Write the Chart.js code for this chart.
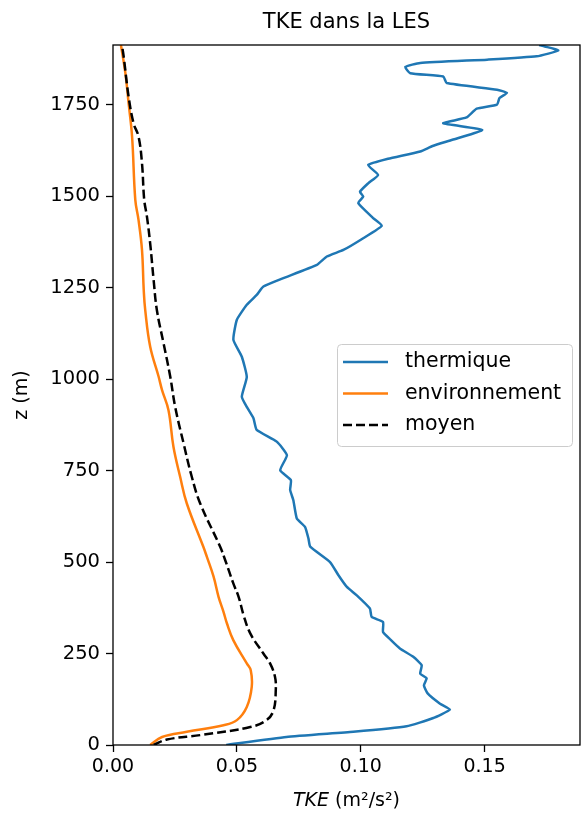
<!DOCTYPE html>
<html>
<head>
<meta charset="utf-8">
<script src="https://cdn.jsdelivr.net/npm/chart.js@4.4.1/dist/chart.umd.min.js"></script>
<style>
  html, body { margin: 0; padding: 0; background: #fff; }
  canvas { display: block; }
</style>
</head>
<body>
<canvas id="chart" width="581" height="814"></canvas>
<script>
// profiles: height z (m) and TKE (m²/s²)
const zThermique = [0, 22, 36, 51, 73, 97, 113, 141, 163, 182, 195, 218, 241, 264, 288, 309, 336, 350, 373, 409, 432, 464, 500, 542, 564, 596, 619, 669, 697, 724, 751, 792, 829, 861, 893, 924, 952, 1006, 1061, 1107, 1162, 1203, 1230, 1253, 1274, 1312, 1335, 1353, 1385, 1419, 1440, 1481, 1499, 1512, 1535, 1558, 1585, 1602, 1622, 1637, 1654, 1681, 1699, 1715, 1739, 1750, 1768, 1782, 1791, 1809, 1827, 1836, 1853, 1864, 1873, 1882, 1898, 1909, 1913];
const tkeThermique = [0.0457, 0.070, 0.097, 0.1185, 0.129, 0.136, 0.132, 0.127, 0.1255, 0.1266, 0.124, 0.1246, 0.1212, 0.1158, 0.112, 0.109, 0.109, 0.1044, 0.1037, 0.0984, 0.0944, 0.091, 0.0876, 0.0796, 0.0789, 0.0775, 0.0742, 0.0728, 0.0715, 0.0718, 0.0675, 0.0702, 0.0661, 0.058, 0.0567, 0.054, 0.052, 0.054, 0.052, 0.0486, 0.050, 0.054, 0.058, 0.0607, 0.068, 0.0823, 0.0863, 0.093, 0.101, 0.1085, 0.105, 0.099, 0.101, 0.0997, 0.103, 0.107, 0.103, 0.111, 0.124, 0.129, 0.137, 0.149, 0.1333, 0.1427, 0.1468, 0.155, 0.156, 0.159, 0.155, 0.1347, 0.1333, 0.120, 0.118, 0.124, 0.151, 0.171, 0.1797, 0.1743, 0.172];

const zEnvironnement = [0, 22, 36, 54, 68, 104, 159, 204, 223, 286, 332, 364, 405, 460, 514, 541, 660, 733, 815, 915, 970, 1007, 1089, 1189, 1244, 1353, 1435, 1490, 1663, 1754, 1836, 1913];
const tkeEnvironnement = [0.015, 0.0198, 0.0298, 0.0446, 0.050, 0.054, 0.056, 0.0556, 0.054, 0.0486, 0.046, 0.0446, 0.0426, 0.0406, 0.0379, 0.0365, 0.0298, 0.0271, 0.0244, 0.0224, 0.0198, 0.0184, 0.015, 0.013, 0.0124, 0.0117, 0.0103, 0.009, 0.0077, 0.0063, 0.005, 0.0032];

const zMoyen = [0, 15, 27, 49, 68, 95, 150, 186, 223, 250, 305, 355, 405, 441, 505, 541, 660, 733, 824, 924, 1007, 1098, 1189, 1271, 1371, 1444, 1490, 1590, 1663, 1699, 1772, 1882, 1913];
const tkeMoyen = [0.0164, 0.0218, 0.0352, 0.0554, 0.062, 0.0648, 0.0657, 0.0654, 0.0634, 0.0607, 0.0554, 0.0527, 0.0507, 0.0486, 0.0453, 0.0433, 0.0352, 0.0318, 0.0285, 0.0251, 0.0231, 0.0204, 0.0177, 0.0164, 0.015, 0.0137, 0.0126, 0.0117, 0.0103, 0.0083, 0.0063, 0.0043, 0.0036];

const xTicks = [0, 0.05, 0.1, 0.15];
const yTicks = [0, 250, 500, 750, 1000, 1250, 1500, 1750];
const seriesLabels = ["thermique", "environnement", "moyen"];

const colors = {
  thermique: "#1f77b4",
  environnement: "#ff7f0e",
  moyen: "#000000",
};
const font = "DejaVu Sans, sans-serif";
const lineWidth = 2.5;
const dash = [9, 4];

const toPoints = (zs, vals) => zs.map((z, i) => ({ x: vals[i], y: z }));

// title over the axes, spines, italic x label and the legend box
const extras = {
  id: "extras",
  afterDraw(chart) {
    const { ctx, chartArea: a } = chart;
    const mid = (a.left + a.right) / 2;
    ctx.save();

    ctx.fillStyle = "#000";
    ctx.textBaseline = "middle";
    ctx.textAlign = "center";
    ctx.font = `21px ${font}`;
    ctx.fillText("TKE dans la LES", mid, 23);

    ctx.strokeStyle = "#000";
    ctx.lineWidth = 1.3;
    ctx.strokeRect(a.left, a.top, a.right - a.left, a.bottom - a.top);

    // x label: "TKE" in italic then the unit
    const y = 801;
    ctx.font = `italic 19px ${font}`;
    const w1 = ctx.measureText("TKE").width;
    ctx.font = `19px ${font}`;
    const unit = " (m²/s²)";
    const w2 = ctx.measureText(unit).width;
    const x0 = mid - (w1 + w2) / 2;
    ctx.textAlign = "left";
    ctx.font = `italic 19px ${font}`;
    ctx.fillText("TKE", x0, y);
    ctx.font = `19px ${font}`;
    ctx.fillText(unit, x0 + w1, y);

    // legend
    const bx = 337, by = 344, bw = 235, bh = 102, r = 4;
    ctx.beginPath();
    ctx.roundRect(bx + 0.5, by + 0.5, bw, bh, r);
    ctx.fillStyle = "rgba(255,255,255,0.8)";
    ctx.fill();
    ctx.strokeStyle = "#cccccc";
    ctx.lineWidth = 1;
    ctx.stroke();

    const rows = [362, 393.5, 425];
    const keys = ["thermique", "environnement", "moyen"];
    keys.forEach((k, i) => {
      ctx.beginPath();
      ctx.strokeStyle = colors[k];
      ctx.lineWidth = lineWidth;
      ctx.setLineDash(k === "moyen" ? dash : []);
      ctx.moveTo(343, rows[i]);
      ctx.lineTo(388, rows[i]);
      ctx.stroke();
      ctx.setLineDash([]);
      ctx.fillStyle = "#000";
      ctx.font = `20.5px ${font}`;
      ctx.textAlign = "left";
      ctx.fillText(seriesLabels[i], 405, rows[i]);
    });

    ctx.restore();
  },
};

new Chart(document.getElementById("chart"), {
  type: "scatter",
  data: {
    datasets: [
      {
        label: seriesLabels[0],
        data: toPoints(zThermique, tkeThermique),
        borderColor: colors.thermique,
        tension: 0.15,
        order: 2,
      },
      {
        label: seriesLabels[1],
        data: toPoints(zEnvironnement, tkeEnvironnement),
        borderColor: colors.environnement,
        tension: 0.4,
        order: 1,
      },
      {
        label: seriesLabels[2],
        data: toPoints(zMoyen, tkeMoyen),
        borderColor: colors.moyen,
        borderDash: dash,
        tension: 0.4,
        order: 0,
      },
    ].map((d) => ({
      ...d,
      showLine: true,
      borderWidth: lineWidth,
      pointRadius: 0,
      fill: false,
    })),
  },
  options: {
    responsive: false,
    animation: false,
    layout: { padding: { left: 0, right: 1, top: 45, bottom: 0 } },
    plugins: {
      legend: { display: false },
      tooltip: { enabled: false },
      title: { display: false },
    },
    scales: {
      x: {
        type: "linear",
        min: 0,
        max: 0.1885,
        afterBuildTicks: (s) => {
          s.ticks = xTicks.map((v) => ({ value: v }));
        },
        afterFit: (s) => {
          s.height = 69;
        },
        ticks: {
          color: "#000",
          font: { family: font, size: 19 },
          padding: 4,
          maxRotation: 0,
          callback: (v) => v.toFixed(2),
        },
        grid: {
          drawOnChartArea: false,
          tickLength: 7,
          tickColor: "#000",
          tickWidth: 1.3,
        },
        border: { display: false },
      },
      y: {
        type: "linear",
        min: 0,
        max: 1913,
        afterBuildTicks: (s) => {
          s.ticks = yTicks.map((v) => ({ value: v }));
        },
        afterFit: (s) => {
          s.width = 113;
        },
        ticks: {
          color: "#000",
          font: { family: font, size: 19.5 },
          padding: 6,
          callback: (v) => String(v),
        },
        grid: {
          drawOnChartArea: false,
          tickLength: 7,
          tickColor: "#000",
          tickWidth: 1.3,
        },
        border: { display: false },
        title: {
          display: true,
          text: "z (m)",
          color: "#000",
          font: { family: font, size: 19, lineHeight: 1.2 },
          padding: { top: 11, bottom: 0 },
        },
      },
    },
  },
  plugins: [extras],
});
</script>
</body>
</html>
